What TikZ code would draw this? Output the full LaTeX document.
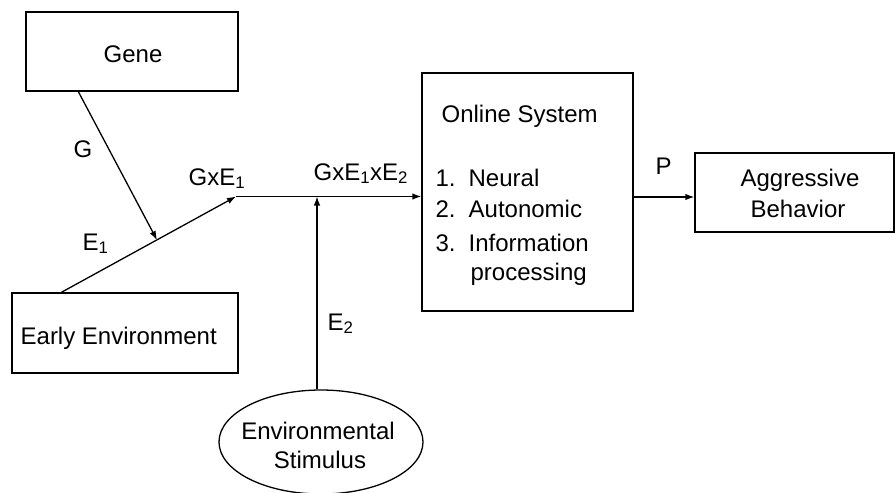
\documentclass[tikz,border=0pt]{standalone}
\usepackage{fontspec}
\setmainfont{Liberation Sans}
\usetikzlibrary{arrows.meta,shapes.geometric}
\begin{document}
\begin{tikzpicture}[x=1pt,y=-1pt,
  font=\fontsize{24}{31}\selectfont,
  every path/.style={line width=1.3pt},
  box/.style={draw, inner sep=0pt},
  txt/.style={anchor=base, inner sep=0pt},
  txtl/.style={anchor=base west, inner sep=0pt},
  arr/.style={-{Latex[length=9pt,width=6.5pt]}}]
\useasboundingbox (0,0) rectangle (895,493);
% boxes
\node[box, minimum width=212pt, minimum height=79pt] (gene) at (132,51.5) {};
\node[box, minimum width=226pt, minimum height=80pt] (ee) at (125,333) {};
\node[box, minimum width=211pt, minimum height=238pt] (online) at (527.5,192) {};
\node[box, minimum width=199pt, minimum height=79pt] (aggr) at (794.5,192.5) {};
\node[box, ellipse, minimum width=204pt, minimum height=104pt] (es) at (321,442) {};
% texts
\node[txt] (tgene) at (133,62) {Gene};
\node[txtl] (tee) at (20,344) {Early Environment};
\node[txt] (tes1) at (318,439) {Environmental};
\node[txt] (tes2) at (320,468) {Stimulus};
\node[txtl] (tos) at (441,122) {Online System};
\node[txtl] (n1) at (435,186) {1.};
\node[txtl] (w1) at (468,186) {Neural};
\node[txtl] (n2) at (435,217) {2.};
\node[txtl] (w2) at (468,217) {Autonomic};
\node[txtl] (n3) at (435,251) {3.};
\node[txtl] (w3) at (468,251) {Information};
\node[txtl] (w4) at (470,280) {processing};
\node[txt] (ta1) at (800,186) {Aggressive};
\node[txt] (ta2) at (798,217) {Behavior};
% labels
\node[txtl] (lg) at (73,157) {G};
\node[txtl] (le1) at (82,250) {E\textsubscript{1}};
\node[txtl] (lgxe) at (188,185) {GxE\textsubscript{1}};
\node[txtl] (lgxee) at (313,180) {GxE\textsubscript{1}xE\textsubscript{2}};
\node[txtl] (le2) at (327,330) {E\textsubscript{2}};
\node[txtl] (lp) at (655,174) {P};
% junctions
\coordinate (j1) at (236,196.5);
\coordinate (j2) at (317,196.5);
\coordinate (gm) at (157,240);
\coordinate (pj) at (660,197);
% connectors
\draw[arr] ([xshift=50pt]ee.north west) -- (j1);
\draw[arr] ([xshift=53pt]gene.south west) -- (gm);
\draw[arr] (j1) -- (j1 -| online.west);
\draw[arr] (j2 |- es.north) -- (j2);
\draw[arr] (online.east |- pj) -- (aggr.west |- pj);
\end{tikzpicture}
\end{document}
